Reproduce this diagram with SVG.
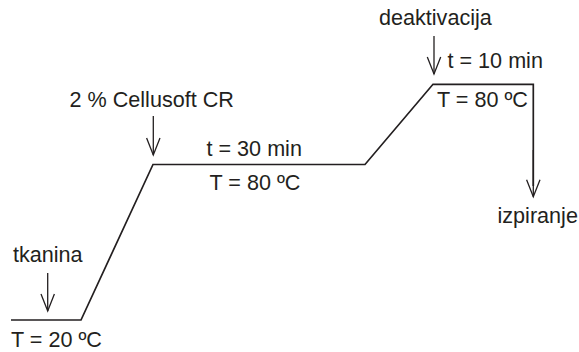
<svg xmlns="http://www.w3.org/2000/svg" width="579" height="352" viewBox="0 0 579 352">
<style>
text{font-family:"Liberation Sans",Arial,sans-serif;font-size:21.6px;fill:#231f20}
.main{fill:none;stroke:#231f20;stroke-width:1.7;stroke-linejoin:miter}
.arr{fill:none;stroke:#231f20;stroke-width:1.3}
</style>
<defs>
<marker id="ah" markerUnits="userSpaceOnUse" markerWidth="24" markerHeight="20" refX="18" refY="8" orient="auto" viewBox="0 0 24 20">
<path d="M1,1.3 L18,8 L1,14.7" fill="none" stroke="#231f20" stroke-width="1.3"/>
</marker>
</defs>
<rect width="579" height="352" fill="#ffffff"/>
<g id="connectors">
<polyline class="main" points="11,320 81,320 153,164.5 365,164.5 433,84.3 533.3,84.3 533.3,186"/>
<line class="arr" x1="533.3" y1="150" x2="533.3" y2="196.7" marker-end="url(#ah)"/>
<line class="arr" x1="47.7" y1="273" x2="47.7" y2="311" marker-end="url(#ah)"/>
<line class="arr" x1="153.3" y1="116" x2="153.3" y2="155" marker-end="url(#ah)"/>
<line class="arr" x1="434" y1="36" x2="434" y2="74" marker-end="url(#ah)"/>
</g>
<g id="node-tkanina">
<text x="13" y="262.3">tkanina</text>
<text x="11" y="347.3">T = 20 ºC</text>
</g>
<g id="node-cellusoft">
<text x="69.5" y="106.7">2 % Cellusoft CR</text>
</g>
<g id="node-30min">
<text x="206.5" y="155.7">t = 30 min</text>
<text x="209.5" y="190">T = 80 ºC</text>
</g>
<g id="node-deaktivacija">
<text x="379" y="24.5">deaktivacija</text>
<text x="447.5" y="68.3">t = 10 min</text>
<text x="437" y="106.7">T = 80 ºC</text>
</g>
<g id="node-izpiranje">
<text x="497.5" y="223">izpiranje</text>
</g>
</svg>
